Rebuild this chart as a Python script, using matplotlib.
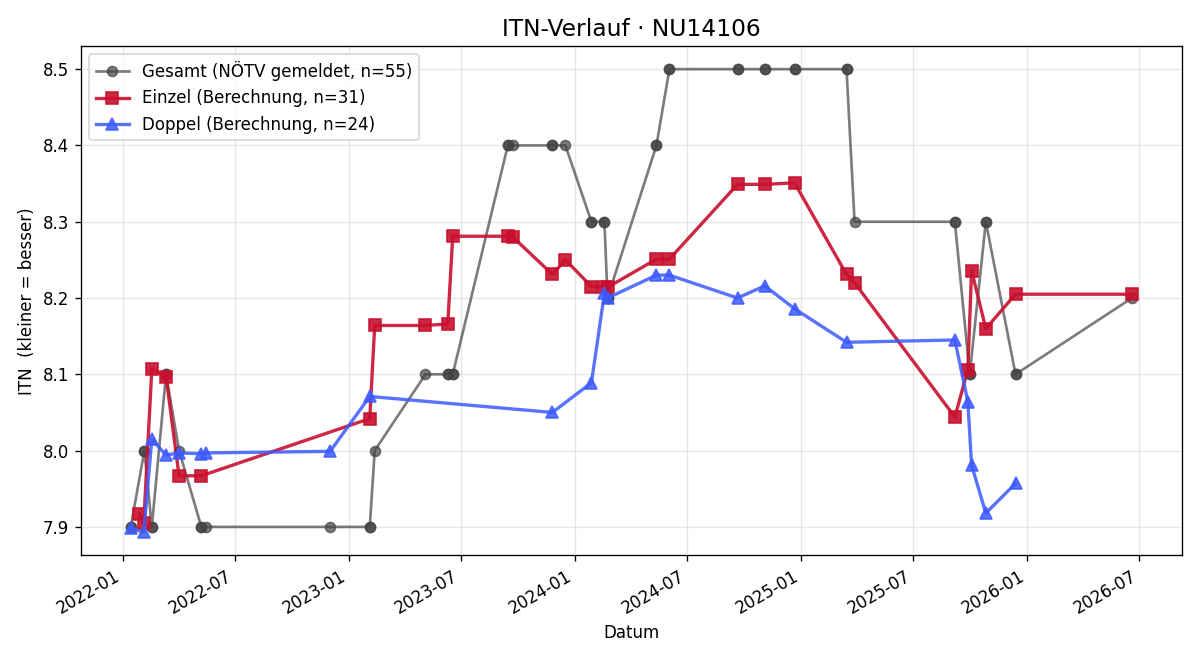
import numpy as np
import pandas as pd
import matplotlib
matplotlib.use('Agg')
import matplotlib.pyplot as plt

# Gesamt (NÖTV gemeldet) - some dates carry several reports
gesamt_dates = ['2022-01-14', '2022-01-14', '2022-02-05', '2022-02-05', '2022-02-17', '2022-02-17',
                '2022-03-12', '2022-03-12', '2022-04-02', '2022-05-08', '2022-05-08', '2022-05-15',
                '2022-12-02', '2023-02-04', '2023-02-04', '2023-02-12', '2023-05-05', '2023-06-10',
                '2023-06-10', '2023-06-18', '2023-06-18', '2023-09-15', '2023-09-15', '2023-09-23',
                '2023-11-26', '2023-11-26', '2023-12-17', '2024-01-28', '2024-01-28', '2024-02-18',
                '2024-02-18', '2024-02-23', '2024-02-23', '2024-05-12', '2024-05-12', '2024-06-02',
                '2024-06-02', '2024-09-20', '2024-09-20', '2024-11-03', '2024-11-03', '2024-12-21',
                '2024-12-21', '2025-03-15', '2025-03-15', '2025-03-28', '2025-09-06', '2025-09-06',
                '2025-09-30', '2025-09-30', '2025-10-26', '2025-10-26', '2025-12-13', '2025-12-13',
                '2026-06-19']
gesamt_itn = [7.9, 7.9, 8.0, 8.0, 7.9, 7.9,
              8.1, 8.1, 8.0, 7.9, 7.9, 7.9,
              7.9, 7.9, 7.9, 8.0, 8.1, 8.1,
              8.1, 8.1, 8.1, 8.4, 8.4, 8.4,
              8.4, 8.4, 8.4, 8.3, 8.3, 8.3,
              8.3, 8.2, 8.2, 8.4, 8.4, 8.5,
              8.5, 8.5, 8.5, 8.5, 8.5, 8.5,
              8.5, 8.5, 8.5, 8.3, 8.3, 8.3,
              8.1, 8.1, 8.3, 8.3, 8.1, 8.1,
              8.2]

einzel_dates = ['2022-01-28', '2022-02-04', '2022-02-17', '2022-03-12', '2022-04-02', '2022-05-08',
                '2023-02-04', '2023-02-12', '2023-05-05', '2023-06-10', '2023-06-18', '2023-09-15',
                '2023-09-23', '2023-11-26', '2023-12-17', '2024-01-28', '2024-02-18', '2024-02-23',
                '2024-05-12', '2024-06-02', '2024-09-20', '2024-11-03', '2024-12-21', '2025-03-15',
                '2025-03-28', '2025-09-06', '2025-09-27', '2025-10-03', '2025-10-26', '2025-12-13',
                '2026-06-19']
einzel_itn = [7.917, 7.905, 8.107, 8.097, 7.967, 7.967,
              8.042, 8.164, 8.164, 8.166, 8.281, 8.281,
              8.280, 8.231, 8.250, 8.215, 8.215, 8.214,
              8.251, 8.251, 8.349, 8.349, 8.351, 8.231,
              8.220, 8.044, 8.106, 8.236, 8.160, 8.205,
              8.205]

doppel_dates = ['2022-01-15', '2022-02-04', '2022-02-17', '2022-03-12', '2022-04-02', '2022-05-08',
                '2022-05-15', '2022-12-02', '2023-02-04', '2023-11-26', '2024-01-28', '2024-02-18',
                '2024-02-23', '2024-05-12', '2024-06-02', '2024-09-20', '2024-11-03', '2024-12-21',
                '2025-03-15', '2025-09-06', '2025-09-27', '2025-10-03', '2025-10-26', '2025-12-13']
doppel_itn = [7.898, 7.893, 8.015, 7.994, 7.997, 7.996,
              7.997, 7.999, 8.071, 8.050, 8.089, 8.206,
              8.200, 8.230, 8.230, 8.200, 8.216, 8.186,
              8.142, 8.145, 8.064, 7.981, 7.918, 7.957]

fig, ax = plt.subplots(figsize=(10, 5.5), dpi=120)

ax.plot(pd.to_datetime(gesamt_dates), gesamt_itn, marker='o', color='#444444', alpha=0.7,
        lw=1.6, ms=6, label='Gesamt (NÖTV gemeldet, n=55)')
ax.plot(pd.to_datetime(einzel_dates), einzel_itn, marker='s', color='#c8102e', alpha=0.9,
        lw=2, ms=7, label='Einzel (Berechnung, n=31)')
ax.plot(pd.to_datetime(doppel_dates), doppel_itn, marker='^', color='#3d5afe', alpha=0.85,
        lw=2, ms=7, label='Doppel (Berechnung, n=24)')

ax.set_title('ITN-Verlauf · NU14106', fontsize=14)
ax.set_xlabel('Datum')
ax.set_ylabel('ITN  (kleiner = besser)')
ax.grid(True, alpha=0.3)
ax.legend(loc='upper left')
fig.autofmt_xdate()
fig.tight_layout()
fig.savefig('out.png')
